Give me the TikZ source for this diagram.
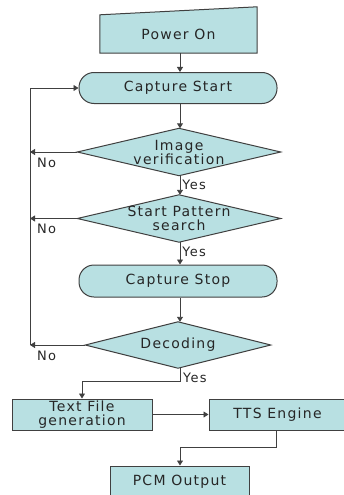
\documentclass[tikz,border=0pt]{standalone}
\usepackage{fontspec}
\setmainfont[LetterSpace=9]{DejaVu Sans}
\usetikzlibrary{arrows.meta,calc}
\definecolor{boxfill}{HTML}{B8E0E2}
\definecolor{lineclr}{HTML}{404040}
\begin{document}
\begin{tikzpicture}[x=1pt,y=-1pt,
  every node/.style={font=\fontsize{14}{14}\selectfont, text=black!85},
  boxnode/.style={draw=lineclr, fill=boxfill, line width=1pt, minimum width=#1, minimum height=31pt, inner sep=0pt, align=center},
  pill/.style={draw=lineclr, fill=boxfill, line width=1pt, rounded corners=15pt, minimum width=198pt, minimum height=31pt, inner sep=0pt},
  dmd/.style n args={2}{minimum width=#1, minimum height=#2, inner sep=0pt, align=center},
  dshape/.style={draw=lineclr, fill=boxfill, line width=1pt},
  conn/.style={draw=lineclr, line width=0.9pt},
  arr/.style={conn, -{Triangle[length=5pt,width=6pt]}},
  lbl/.style={font=\fontsize{13}{13}\selectfont, inner sep=0pt}
]
\useasboundingbox (0,0) rectangle (344,495);

% Power On (manual input)
\node[minimum width=157pt, minimum height=46pt, inner sep=0pt] (pon) at (178.5,30) {};
\draw[dshape] (pon.south west) -- (pon.south east) -- (pon.north east) -- ($(pon.north west)+(0,8)$) -- cycle;
\node at (178.5,34) {Power On};

\node[pill] (cs) at (178,88) {Capture Start};

\node[dmd={203pt}{47pt}] (iv) at (179,152) {};
\draw[dshape] (iv.north) -- (iv.east) -- (iv.south) -- (iv.west) -- cycle;
\node[align=center] at (179,152) {Image\\verification};

\node[dmd={203pt}{47pt}] (sp) at (179,218.5) {};
\draw[dshape] (sp.north) -- (sp.east) -- (sp.south) -- (sp.west) -- cycle;
\node[align=center] at (179,218.5) {Start Pattern\\search};

\node[pill, minimum height=32pt] (cst) at (178,281) {Capture Stop};

\node[dmd={185pt}{46pt}] (dec) at (178,345) {};
\draw[dshape] (dec.north) -- (dec.east) -- (dec.south) -- (dec.west) -- cycle;
\node at (178,345) {Decoding};

\node[boxnode=140pt, align=center] (tf) at (82,414.5) {Text File\\generation};
\node[boxnode=137pt] (tts) at (277.5,414.5) {TTS Engine};
\node[boxnode=139pt] (pcm) at (179.5,481.5) {PCM Output};

% main flow
\draw[arr] (pon.south -| 180,0) -- (cs.north -| 180,0);
\draw[arr] (cs.south -| 180,0) -- (iv.north -| 180,0);
\draw[arr] (iv.south -| 180,0) -- node[lbl, right=2pt, pos=0.5] {Yes} (sp.north -| 180,0);
\draw[arr] (sp.south -| 180,0) -- node[lbl, right=2pt, pos=0.45] {Yes} (cst.north -| 180,0);
\draw[arr] (cst.south -| 180,0) -- (dec.north -| 180,0);

\coordinate (yb) at (180,381);
\draw[arr] (dec.south -| 180,0) -- (yb) -| (tf.north);
\node[lbl, anchor=west] at (183,378) {Yes};

\draw[arr] (tf.east) -- (tts.west);
\coordinate (tb) at (276,447);
\draw[arr] (tts.south -| tb) -- (tb) -| (pcm.north -| 180,0);

% No loops
\coordinate (lp) at (30,345);
\draw[arr] (iv.west) -- (iv.west -| lp);
\draw[arr] (sp.west) -- (sp.west -| lp);
\draw[arr] (dec.west) -- (lp);
\draw[arr] (lp) |- (cs.west);
\node[lbl, anchor=west] at (37,163) {No};
\node[lbl, anchor=west] at (37,229) {No};
\node[lbl, anchor=west] at (37,355.5) {No};
\end{tikzpicture}
\end{document}
